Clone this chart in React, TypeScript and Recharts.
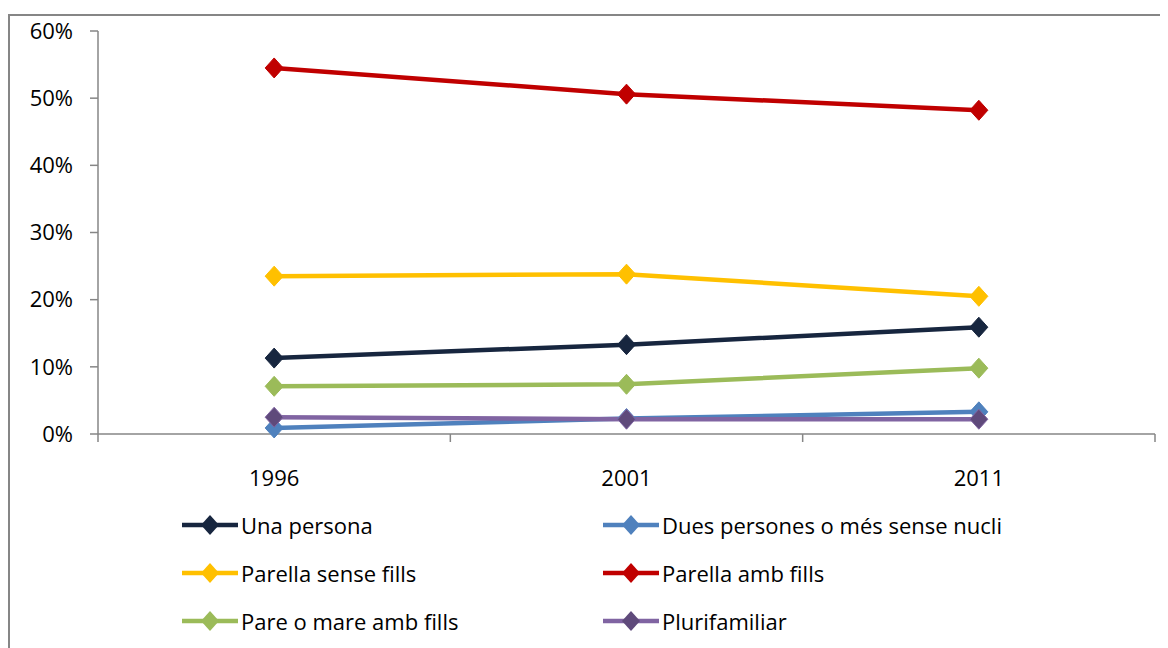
import { CartesianGrid, Line, LineChart, XAxis, YAxis } from 'recharts'

const years = ['1996', '2001', '2011']
const unaPersona = [11.3, 13.3, 15.9]
const duesPersones = [0.9, 2.3, 3.3]
const parellaSense = [23.5, 23.8, 20.5]
const parellaAmb = [54.5, 50.6, 48.2]
const pareMare = [7.1, 7.4, 9.8]
const plurifamiliar = [2.5, 2.2, 2.2]
const yTicks = [0, 10, 20, 30, 40, 50, 60]

const series = [
  { key: 'una', name: 'Una persona', values: unaPersona, color: '#17263f', marker: '#17263f' },
  { key: 'dues', name: 'Dues persones o més sense nucli', values: duesPersones, color: '#4f81bd', marker: '#4f81bd' },
  { key: 'parSense', name: 'Parella sense fills', values: parellaSense, color: '#ffc000', marker: '#ffc000' },
  { key: 'parAmb', name: 'Parella amb fills', values: parellaAmb, color: '#c00000', marker: '#c00000' },
  { key: 'pare', name: 'Pare o mare amb fills', values: pareMare, color: '#9bbb59', marker: '#9bbb59' },
  { key: 'pluri', name: 'Plurifamiliar', values: plurifamiliar, color: '#8064a2', marker: '#5f4a7b' },
]

const data = years.map((year, i) => {
  const row: Record<string, string | number> = { year }
  series.forEach((s) => {
    row[s.key] = s.values[i]
  })
  return row
})

const FONT = '"Open Sans", Lato, sans-serif'
const AXIS = '#868686'
const BAND = (1145 - 88) / years.length

function Diamond({ cx, cy, fill, stroke, size = 9 }: any) {
  if (cx == null || cy == null) return null
  return (
    <polygon
      points={`${cx},${cy - size - 1} ${cx + size},${cy} ${cx},${cy + size + 1} ${cx - size},${cy}`}
      fill={fill}
      stroke={stroke}
      strokeWidth={1}
    />
  )
}

function YearTick({ x, y, payload, index }: any) {
  return (
    <g>
      <line x1={x + BAND / 2} y1={y - 8} x2={x + BAND / 2} y2={y} stroke={AXIS} strokeWidth={1.5} />
      {index === 0 && <line x1={x - BAND / 2} y1={y - 8} x2={x - BAND / 2} y2={y} stroke={AXIS} strokeWidth={1.5} />}
      <text x={x} y={y + 44} textAnchor="middle" fontSize={22} fontFamily={FONT} fill="#000">
        {payload.value}
      </text>
    </g>
  )
}

function LegendMark({ color, marker }: { color: string; marker: string }) {
  return (
    <svg width={56} height={24} style={{ display: 'block' }}>
      <line x1={0} y1={12} x2={56} y2={12} stroke={color} strokeWidth={4.5} />
      <polygon points="28,2 37,12 28,22 19,12" fill={marker} />
    </svg>
  )
}

export default function App() {
  return (
    <div
      style={{
        position: 'relative',
        marginTop: 6,
        width: 1176,
        height: 640,
        border: `2px solid ${AXIS}`,
        fontFamily: FONT,
        background: '#fff',
      }}
    >
      <LineChart width={1156} height={490} data={data} margin={{ top: 15, right: 11, bottom: 0, left: 0 }}>
        <CartesianGrid stroke="none" />
        <XAxis
          dataKey="year"
          padding={{ left: BAND / 2, right: BAND / 2 }}
          axisLine={{ stroke: AXIS, strokeWidth: 1.5 }}
          tickLine={false}
          tick={<YearTick />}
          height={72}
          interval={0}
        />
        <YAxis
          width={88}
          domain={[0, 60]}
          ticks={yTicks}
          tickFormatter={(v: number) => `${v}%`}
          axisLine={{ stroke: AXIS, strokeWidth: 1.5 }}
          tickLine={{ stroke: AXIS, strokeWidth: 1.5 }}
          tickSize={8}
          tickMargin={17}
          tick={{ fontSize: 22, fontFamily: FONT, fill: '#000' }}
        />
        {series.map((s) => (
          <Line
            key={s.key}
            dataKey={s.key}
            name={s.name}
            type="linear"
            stroke={s.color}
            strokeWidth={4.5}
            dot={<Diamond fill={s.marker} stroke={s.color} />}
            activeDot={false}
            isAnimationActive={false}
          />
        ))}
      </LineChart>
      <div
        style={{
          position: 'absolute',
          left: 172,
          top: 497,
          display: 'grid',
          gridTemplateColumns: '421px 440px',
          rowGap: 24,
        }}
      >
        {series.map((s) => (
          <div key={s.key} style={{ display: 'flex', alignItems: 'center', height: 24 }}>
            <LegendMark color={s.color} marker={s.marker} />
            <span style={{ fontSize: 22, marginLeft: 3, color: '#000', whiteSpace: 'nowrap' }}>{s.name}</span>
          </div>
        ))}
      </div>
    </div>
  )
}
